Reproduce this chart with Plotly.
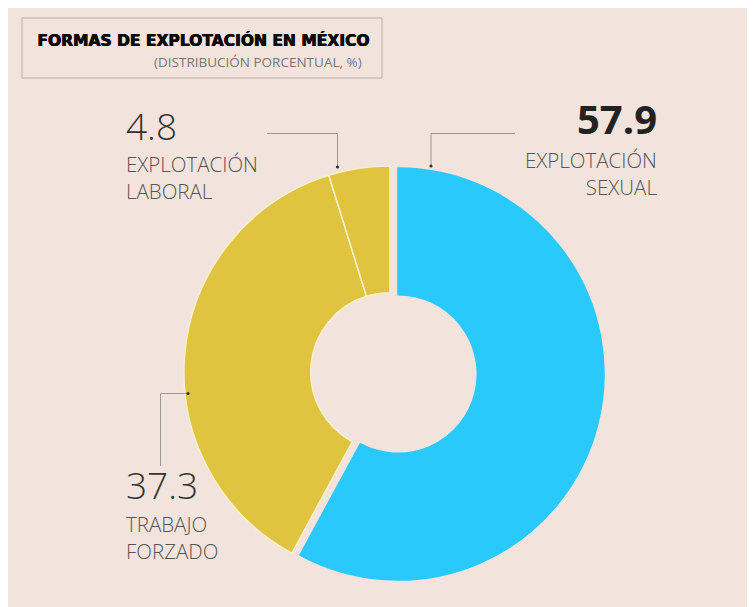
import plotly.graph_objects as go

# data
categories = ["EXPLOTACIÓN SEXUAL", "TRABAJO FORZADO", "EXPLOTACIÓN LABORAL"]
values = [57.9, 37.3, 4.8]
value_labels = ["57.9", "37.3", "4.8"]
label_lines = ["EXPLOTACIÓN<br>SEXUAL", "TRABAJO<br>FORZADO", "EXPLOTACIÓN<br>LABORAL"]
colors = ["#29c9fc", "#e0c33f", "#e0c33f"]
pulls = [0.04, 0, 0]

W, H = 755, 607
BG = "#f2e4dc"
OFF = 8  # page body margin


def px(x):
    return (x - OFF) / W


def py(y):
    return 1 - (y - OFF) / H


fig = go.Figure()
fig.add_trace(go.Pie(
    labels=categories, values=values, sort=False, direction="clockwise",
    rotation=0, hole=0.385, pull=pulls, textinfo="none", hoverinfo="label+value",
    marker=dict(colors=colors, line=dict(color=["#29c9fc", "#f7efcc", "#f7efcc"], width=1.5)),
    domain=dict(x=[px(390 - 214.25), px(390 + 214.25)],
                y=[py(372 + 214.25), py(372 - 214.25)]),
    showlegend=False,
))

shapes = [
    # title box
    dict(type="rect", x0=px(22), x1=px(382), y0=py(78), y1=py(18),
         line=dict(color="#b8aea8", width=1), fillcolor=BG),
]

grey = "#9d9896"
leaders = [
    [(267, 133.5), (337.5, 133.5), (337.5, 167)],
    [(515, 133.5), (431, 133.5), (431, 166)],
    [(160.5, 466), (160.5, 393.5), (188, 393.5)],
]
for pts in leaders:
    for (x0, y0), (x1, y1) in zip(pts[:-1], pts[1:]):
        shapes.append(dict(type="line", x0=px(x0), y0=py(y0), x1=px(x1), y1=py(y1),
                           line=dict(color=grey, width=1)))
    ex, ey = pts[-1]
    shapes.append(dict(type="circle", x0=px(ex - 1.6), x1=px(ex + 1.6),
                       y0=py(ey + 1.6), y1=py(ey - 1.6),
                       fillcolor="#333", line_width=0))

LIGHT = dict(family="Open Sans", color="#555555", size=20.5, weight=300)
BIGLIGHT = dict(family="Open Sans", size=37, color="#333", weight=300)


def ann(text, x, y, anchor, font, align=None):
    return dict(text=text, x=px(x), y=py(y), xref="paper", yref="paper",
                xanchor=anchor, yanchor="middle", showarrow=False, font=font,
                align=align or anchor)


annotations = [
    ann("FORMAS DE EXPLOTACIÓN EN MÉXICO", 35, 41, "left",
        dict(family="DejaVu Sans", size=15.5, color="#0a0a0a", weight=900,
             shadow="0.8px 0 0 #0a0a0a, 0.4px 0.3px 0 #0a0a0a")),
    ann("(DISTRIBUCIÓN PORCENTUAL, %)", 364, 62, "right",
        dict(family="Open Sans", size=13.5, color="#7a7472")),
    ann(value_labels[0], 659, 118, "right",
        dict(family="Open Sans", size=40, color="#222", weight=700)),
    ann(label_lines[0], 659, 173, "right", LIGHT),
    ann(value_labels[2], 124, 125, "left", BIGLIGHT),
    ann(label_lines[2], 124, 177, "left", LIGHT),
    ann(value_labels[1], 124, 484, "left", BIGLIGHT),
    ann(label_lines[1], 124, 537.5, "left", LIGHT),
]

fig.update_layout(
    width=W, height=H, margin=dict(l=0, r=0, t=0, b=0),
    paper_bgcolor=BG, plot_bgcolor=BG,
    shapes=shapes, annotations=annotations,
)

fig.write_html("out.html")
